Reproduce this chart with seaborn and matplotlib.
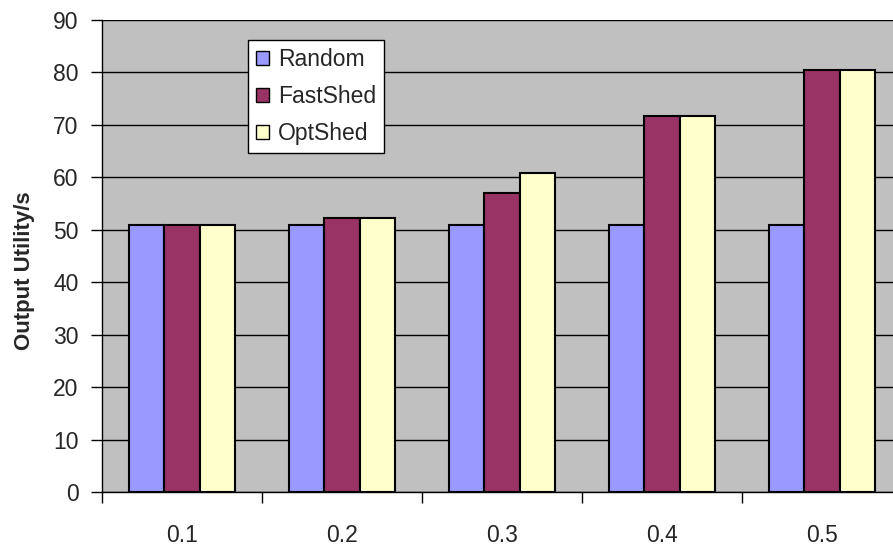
import matplotlib
matplotlib.use("Agg")
import matplotlib.pyplot as plt
from matplotlib.ticker import FixedLocator
import seaborn as sns
import pandas as pd

# Shedding ratio categories and output utility per strategy
categories = ["0.1", "0.2", "0.3", "0.4", "0.5"]
random_vals = [51.0, 51.0, 51.0, 51.0, 51.0]
fastshed_vals = [51.0, 52.3, 57.0, 71.6, 80.4]
optshed_vals = [51.0, 52.3, 60.8, 71.6, 80.4]
series_names = ["Random", "FastShed", "OptShed"]
series_colors = ["#9999FF", "#993366", "#FFFFCC"]

rows = []
for name, vals in zip(series_names, [random_vals, fastshed_vals, optshed_vals]):
    for c, v in zip(categories, vals):
        rows.append({"ratio": c, "strategy": name, "utility": v})
df = pd.DataFrame(rows)

sns.set_style("ticks")
plt.rcParams["font.family"] = ["Liberation Sans", "DejaVu Sans"]

fig = plt.figure(figsize=(8.93, 5.46), dpi=100)
ax = fig.add_axes([102 / 893, 54 / 546, 800 / 893, 472 / 546])
ax.set_facecolor("#C0C0C0")

sns.barplot(data=df, x="ratio", y="utility", hue="strategy",
            order=categories, hue_order=series_names,
            palette=series_colors, width=0.667, edgecolor="black",
            linewidth=1.5, saturation=1, ax=ax, zorder=3)

ax.set_ylim(0, 90)
ax.set_xlim(-0.5, len(categories) - 0.5)
ax.set_yticks(range(0, 91, 10))
ax.yaxis.grid(True, color="black", linewidth=1.0, zorder=0)
ax.set_axisbelow(True)

# category labels centred, tick marks on the category boundaries
ax.set_xticks(range(len(categories)))
ax.set_xticklabels(categories)
ax.tick_params(axis="x", which="major", length=0, pad=23, labelsize=16.5)
ax.xaxis.set_minor_locator(FixedLocator([i - 0.5 for i in range(len(categories) + 1)]))
ax.tick_params(axis="x", which="minor", length=8, width=1, color="black", direction="out")
ax.tick_params(axis="y", length=8, width=1, color="black", labelsize=16.5, pad=9)

for side in ["top", "right"]:
    ax.spines[side].set_visible(False)
for side in ["left", "bottom"]:
    ax.spines[side].set_color("black")
    ax.spines[side].set_linewidth(1.0)

ax.set_xlabel("")
ax.set_ylabel("Output Utility/s", fontsize=16, fontweight="bold", labelpad=13)
ax.yaxis.label.set_y(0.468)

leg = ax.legend(loc="upper left", bbox_to_anchor=((248 - 102) / 800, (492 - 40) / 472),
                borderaxespad=0, fontsize=16.5, frameon=True, fancybox=False,
                framealpha=1, edgecolor="black", handlelength=0.55, handleheight=0.55,
                handletextpad=0.4, labelspacing=0.62, borderpad=0.35)
leg.get_frame().set_linewidth(1.0)
leg.get_frame().set_facecolor("white")
for h in leg.legend_handles:
    h.set_edgecolor("black")
    h.set_linewidth(1.0)

fig.savefig("out.png", dpi=100)
